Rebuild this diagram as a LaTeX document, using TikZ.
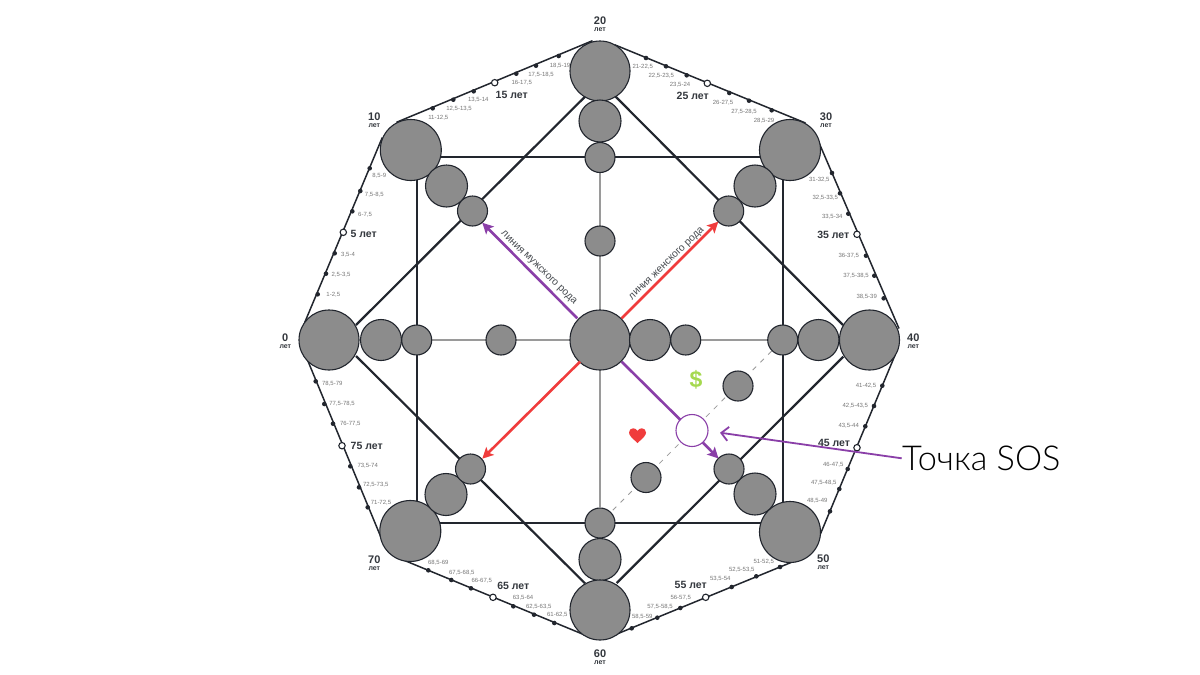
\documentclass[tikz,border=0pt]{standalone}
\usepackage{fontspec}
\setmainfont{Liberation Sans}
\newfontfamily\sosfont{Lato Light}
\usetikzlibrary{arrows.meta,backgrounds}
\definecolor{inkdark}{HTML}{22262E}
\definecolor{ballgrey}{HTML}{8C8C8C}
\definecolor{thingrey}{HTML}{9A9A9A}
\definecolor{purpleline}{HTML}{8A3FA8}
\definecolor{redline}{HTML}{F03C3C}
\definecolor{labgrey}{HTML}{777777}
\definecolor{bigtext}{HTML}{33373D}
\definecolor{dollargreen}{HTML}{A5D94F}
\newcounter{labc}
\tikzset{
  ball/.style={circle,draw=inkdark,line width=1.1pt,fill=ballgrey,inner sep=0pt,minimum size=#1},
  sosball/.style={circle,draw=purpleline,line width=1.1pt,fill=white,inner sep=0pt,minimum size=32pt},
  agedot/.style={circle,fill=inkdark,inner sep=0pt,minimum size=4.6pt},
  fivedot/.style={circle,draw=inkdark,line width=1.1pt,fill=white,inner sep=0pt,minimum size=6.4pt},
  agelab/.style={font=\fontsize{6}{7}\selectfont,text=labgrey,inner sep=0pt},
  fivelab/.style={font=\fontsize{10.5}{12}\selectfont\bfseries,text=bigtext,inner sep=0pt},
  decnum/.style={font=\fontsize{11}{12}\selectfont\bfseries,text=bigtext,inner sep=0pt},
  letlab/.style={font=\fontsize{7}{8}\selectfont\bfseries,text=bigtext,inner sep=0pt},
  rodlab/.style={font=\fontsize{10.3}{12}\selectfont,text=bigtext!90,inner sep=0pt},
  edge8/.style={draw=inkdark,line width=1.5pt},
  heavy/.style={draw=inkdark,line width=2.2pt},
  thin line/.style={draw=thingrey,line width=1.2pt},
  dash line/.style={draw=thingrey,line width=.8pt,dash pattern=on 5pt off 6pt},
  rodarrow/.style={line width=2.6pt,-{Stealth[length=11pt,width=11pt,inset=2.5pt]}},
}
\newcommand\al[3]{\stepcounter{labc}\node[agelab] (lab\thelabc) at (#1,#2) {#3};}
\newcommand\fl[3]{\stepcounter{labc}\node[fivelab] (lab\thelabc) at (#1,#2) {#3};}
\newcommand\dl[3]{\stepcounter{labc}\node[decnum] (lab\thelabc) at (#1,#2) {#3};
  \stepcounter{labc}\node[letlab] (lab\thelabc) at (#1,#2+9) {лет};}
\begin{document}
\begin{tikzpicture}[x=1pt,y=-1pt]
\useasboundingbox (0,0) rectangle (1200,675);
% balls
\node[ball=60pt] (n20) at (600,71) {};
\node[ball=42pt] (t2) at (600,121) {};
\node[ball=30pt] (t3) at (600,157.5) {};
\node[ball=30pt] (t4) at (600,241) {};
\node[ball=60pt] (c) at (600,340) {};
\node[ball=30pt] (b3) at (600,523) {};
\node[ball=42pt] (b2) at (600,559.5) {};
\node[ball=60pt] (n60) at (600,610) {};
\node[ball=60pt] (n0) at (329,340) {};
\node[ball=41pt] (l2) at (381,340) {};
\node[ball=30pt] (l3) at (416.7,340) {};
\node[ball=30pt] (l4) at (501,340) {};
\node[ball=41pt] (r4) at (650,340) {};
\node[ball=30pt] (r5) at (685.7,340) {};
\node[ball=30pt] (r3) at (782.7,340) {};
\node[ball=41pt] (r2) at (818.5,340) {};
\node[ball=60pt] (n40) at (869.5,340) {};
\node[ball=61pt] (n10) at (410.8,150) {};
\node[ball=42pt] (a2) at (446.5,186) {};
\node[ball=30pt] (a3) at (472.5,211) {};
\node[ball=61pt] (n30) at (790,150) {};
\node[ball=42pt] (e2) at (755,186) {};
\node[ball=30pt] (e3) at (728.7,211) {};
\node[ball=61pt] (n70) at (410.3,531) {};
\node[ball=42pt] (g2) at (446,494.5) {};
\node[ball=30pt] (g3) at (470.5,469) {};
\node[ball=61pt] (n50) at (790,532) {};
\node[ball=42pt] (f2) at (755,494) {};
\node[ball=30pt] (f3) at (729,469) {};
\node[ball=30pt] (s1) at (646,477.5) {};
\node[ball=30pt] (s2) at (738,386) {};
\node[sosball] (sos) at (692,430.5) {};
% age dots
\foreach \x/\y [count=\i] in {432.7/108.3,453.3/99.7,473.7/91.3,516.3/73.7,536/65.7,558.7/56,
 646/58,666/66.3,686.7/75.3,729.3/93,749/100.7,771.7/110.3,
 369.7/168.3,360.3/191,352.3/211.3,334.7/253.3,326/273.7,317.7/294.3,
 832/173,840/193.3,848.3/213.7,866/255.7,874.3/275.7,883.7/298.3,
 315.7/381.3,324.3/404,333/423.7,350.3/466.3,359/487.3,367.7/507.3,
 882.3/385.7,874/406,865.3/426.3,847.7/469,839.3/489,830/511.3,
 428.3/570.3,451.3/580,471/588.3,513.3/606.3,534/614.7,554.3/623,
 631.7/628.3,657.3/617.7,680.3/608,731.7/587,756.3/576.3,780/567}
  \node[agedot] (d\i) at (\x,\y) {};
\foreach \x/\y [count=\i] in {494.7/82.7,707.3/83.3,343.3/232.3,857/234.3,342/445.7,857/447.7,493/597.3,705.7/597.3}
  \node[fivedot] (o\i) at (\x,\y) {};
% free line ends
\coordinate (oa) at (304.7,322.5); \coordinate (ob) at (382.3,137.5);
\coordinate (oc) at (396.5,122.3); \coordinate (od) at (592.5,40.7);
\coordinate (oe) at (614.5,44.7);  \coordinate (of) at (805.5,123);
\coordinate (og) at (817.6,139.5); \coordinate (oh) at (899,328.5);
\coordinate (oi) at (895.3,354.5); \coordinate (oj) at (817.7,540.5);
\coordinate (ok) at (798.5,559.4); \coordinate (ol) at (614.5,635);
\coordinate (om) at (585.5,635.3); \coordinate (on) at (399.5,558.4);
\coordinate (oo) at (382.3,540.5); \coordinate (op) at (304.4,352.5);
\coordinate (da) at (356,325); \coordinate (db) at (585,96.7);
\coordinate (dc) at (615.7,96.7); \coordinate (dd) at (843,325);
\coordinate (de) at (356,356); \coordinate (df) at (585,583.3);
\coordinate (dg) at (616.7,583); \coordinate (dh) at (843.3,356.7);
\coordinate (ra) at (416.7,157.3); \coordinate (rb) at (783,157.3);
\coordinate (rc) at (783,523.3); \coordinate (rd) at (416.7,523.3);
\begin{scope}[on background layer]
  \fill[white] (0,0) rectangle (1200,675);
  \draw[thin line] (t3) -- (b3);
  \draw[thin line] (l3) -- (r3);
  \draw[dash line] (r3) -- (b3);
  \draw[heavy] (ra) -- (rb) -- (rc) -- (rd) -- cycle;
  \draw[heavy] (da) -- (db);
  \draw[heavy] (dc) -- (dd);
  \draw[heavy] (de) -- (df);
  \draw[heavy] (dg) -- (dh);
  \draw[edge8] (oa) -- (ob);
  \draw[edge8] (oc) -- (od);
  \draw[edge8] (oe) -- (of);
  \draw[edge8] (og) -- (oh);
  \draw[edge8] (oi) -- (oj);
  \draw[edge8] (ok) -- (ol);
  \draw[edge8] (om) -- (on);
  \draw[edge8] (oo) -- (op);
\end{scope}
% arrows
\coordinate (pa) at (577.3,318.3); \coordinate (pb) at (482.3,222.7);
\coordinate (qa) at (621.7,318.3); \coordinate (qb) at (718.3,221.7);
\coordinate (qc) at (580,361.7);   \coordinate (qd) at (482.3,458.7);
\coordinate (pc) at (621.7,361.7); \coordinate (pd) at (680.5,420);
\coordinate (pe) at (703,442.7);   \coordinate (pf) at (718.5,458.5);
\draw[rodarrow,purpleline] (pa) -- (pb);
\draw[rodarrow,redline] (qa) -- (qb);
\draw[rodarrow,redline] (qc) -- (qd);
\draw[purpleline,line width=2.6pt] (pc) -- (pd);
\draw[rodarrow,purpleline] (pe) -- (pf);
% rotated labels
\node[rodlab,rotate=-44] (mlab) at (538.5,268) {линия мужского рода};
\node[rodlab,rotate=44] (wlab) at (667,264) {линия женского рода};
% symbols
\node[inner sep=0pt,font=\fontsize{23}{24}\selectfont\bfseries,text=dollargreen] (dollar) at (696,379.5) {\$};
\fill[redline] (637.5,443) .. controls (632,438) and (629,435.5) .. (629,432.5)
  .. controls (629,430) and (631,428.3) .. (633,428.3)
  .. controls (635,428.3) and (636.5,429) .. (637.5,431)
  .. controls (638.5,429) and (640,428.3) .. (642,428.3)
  .. controls (644,428.3) and (646,430) .. (646,432.5)
  .. controls (646,435.5) and (643,438) .. (637.5,443) -- cycle;
% SOS
\node[inner sep=0pt,anchor=west,font=\sosfont\fontsize{34.3}{38}\selectfont,text=black] (soslab) at (902,458) {Точка SOS};
\coordinate (sosend) at (901.7,458.3);
\coordinate (sostip) at (720,432.7);
\draw[purpleline,line width=1.8pt,-{Straight Barb[length=7pt,width=14pt]}] (sosend) -- (sostip);
% decade labels
\dl{374.3}{116.7}{10}\dl{600}{21}{20}\dl{826}{116.7}{30}\dl{285.3}{337.7}{0}\dl{913.3}{337.7}{40}
\dl{374.3}{559.3}{70}\dl{600}{654}{60}\dl{823.3}{559}{50}
% five-year labels
\fl{363.7}{234.3}{5 лет}\fl{511.7}{94.7}{15 лет}\fl{692.7}{96}{25 лет}\fl{833.3}{235.3}{35 лет}
\fl{366.7}{446.3}{75 лет}\fl{834}{443}{45 лет}\fl{513.3}{585.7}{65 лет}\fl{690.7}{584.7}{55 лет}
% age labels
\al{379.3}{175.3}{8,5-9}\al{374.3}{194.7}{7,5-8,5}\al{365}{214.3}{6-7,5}
\al{438.3}{118}{11-12,5}\al{459}{109}{12,5-13,5}\al{478.3}{100}{13,5-14}
\al{521.7}{83}{16-17,5}\al{541}{75}{17,5-18,5}\al{560}{65.3}{18,5-19}
\al{642.7}{66.7}{21-22,5}\al{661.3}{75.7}{22,5-23,5}\al{680}{84.7}{23,5-24}
\al{723}{102.7}{26-27,5}\al{744}{111.3}{27,5-28,5}\al{764}{120.3}{28,5-29}
\al{819.3}{179.3}{31-32,5}\al{825.3}{197.7}{32,5-33,5}\al{832.3}{216.3}{33,5-34}
\al{348}{255}{3,5-4}\al{341}{275}{2,5-3,5}\al{333.3}{294.7}{1-2,5}
\al{332.3}{383.7}{78,5-79}\al{342}{404}{77,5-78,5}\al{350.3}{424}{76-77,5}
\al{848.7}{255.3}{36-37,5}\al{856}{276}{37,5-38,5}\al{866.7}{296.7}{38,5-39}
\al{866}{386}{41-42,5}\al{855.3}{405.7}{42,5-43,5}\al{848.7}{425.7}{43,5-44}
\al{367.7}{465.7}{73,5-74}\al{375.7}{484.3}{72,5-73,5}\al{381}{503}{71-72,5}
\al{438.3}{562.7}{68,5-69}\al{461.7}{572.3}{67,5-68,5}\al{481.7}{580.3}{66-67,5}
\al{523}{597.3}{63,5-64}\al{538.7}{606.3}{62,5-63,5}\al{557.3}{614.7}{61-62,5}
\al{763.7}{562}{51-52,5}\al{741.7}{570}{52,5-53,5}\al{720.3}{578.7}{53,5-54}
\al{680.7}{598}{56-57,5}\al{660}{607}{57,5-58,5}\al{642.3}{616.7}{58,5-59}
\al{833.3}{465}{46-47,5}\al{823.7}{482.7}{47,5-48,5}\al{817.3}{500.7}{48,5-49}
\end{tikzpicture}
\end{document}
